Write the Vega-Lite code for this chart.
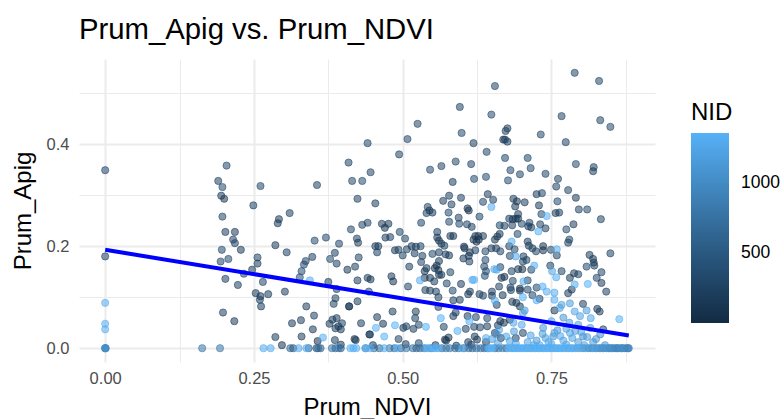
{"$schema":"https://vega.github.io/schema/vega-lite/v6.json","width":576,"height":303,"autosize":{"type":"none"},"padding":{"left":79,"top":59,"right":129,"bottom":57},"background":"white","view":{"stroke":null},
"title":{"text":"Prum_Apig vs. Prum_NDVI","anchor":"start","frame":"group","font":"Liberation Sans","fontSize":29.3,"fontWeight":"normal","color":"#000000","offset":14},
"config":{"font":"Liberation Sans"},
"resolve":{"axis":{"x":"independent","y":"independent"}},
"layer":[
{"data":{"values":[
{"x":0,"y":0.349,"n":300},{"x":0,"y":0.18,"n":250},{"x":0.204,"y":0.358,"n":300},{"x":0.19,"y":0.328,"n":250},{"x":0.197,"y":0.316,"n":350},{"x":0.195,"y":0.299,"n":200},{"x":0.2,"y":0.293,"n":150},{"x":0.249,"y":0.28,"n":250},{"x":0.261,"y":0.318,"n":300},{"x":0.356,"y":0.32,"n":250},{"x":0.197,"y":0.258,"n":300},{"x":0.202,"y":0.228,"n":220},{"x":0.218,"y":0.228,"n":200},{"x":0.215,"y":0.213,"n":280},{"x":0.218,"y":0.206,"n":260},{"x":0.228,"y":0.193,"n":180},{"x":0.196,"y":0.193,"n":320},{"x":0.207,"y":0.175,"n":340},{"x":0.194,"y":0.17,"n":300},{"x":0.256,"y":0.178,"n":280},{"x":0.256,"y":0.166,"n":210},{"x":0.247,"y":0.154,"n":190},{"x":0.233,"y":0.146,"n":300},{"x":0.202,"y":0.136,"n":220},{"x":0.223,"y":0.124,"n":250},{"x":0.265,"y":0.13,"n":280},{"x":0.253,"y":0.108,"n":180},{"x":0.261,"y":0.102,"n":160},{"x":0.26,"y":0.095,"n":230},{"x":0.274,"y":0.106,"n":200},{"x":0.262,"y":0.082,"n":220},{"x":0.198,"y":0.07,"n":210},{"x":0.217,"y":0.053,"n":170},{"x":0.292,"y":0.253,"n":180},{"x":0.29,"y":0.245,"n":150},{"x":0.31,"y":0.265,"n":240},{"x":0.286,"y":0.202,"n":200},{"x":0.305,"y":0.188,"n":240},{"x":0.352,"y":0.211,"n":350},{"x":0.371,"y":0.217,"n":300},{"x":0.393,"y":0.205,"n":310},{"x":0.386,"y":0.187,"n":240},{"x":0.378,"y":0.175,"n":360},{"x":0.389,"y":0.166,"n":260},{"x":0.348,"y":0.179,"n":220},{"x":0.337,"y":0.171,"n":250},{"x":0.334,"y":0.164,"n":330},{"x":0.33,"y":0.151,"n":380},{"x":0.327,"y":0.139,"n":400},{"x":0.302,"y":0.111,"n":200},{"x":0.375,"y":0.13,"n":200},{"x":0.389,"y":0.116,"n":220},{"x":0.387,"y":0.098,"n":240},{"x":0.384,"y":0.087,"n":250},{"x":0.338,"y":0.082,"n":220},{"x":0.351,"y":0.064,"n":240},{"x":0.329,"y":0.055,"n":230},{"x":0.314,"y":0.049,"n":180},{"x":0.349,"y":0.037,"n":190},{"x":0.33,"y":0.023,"n":210},{"x":0.286,"y":0.022,"n":200},{"x":0.297,"y":0.006,"n":120},{"x":0.357,"y":0.014,"n":60},{"x":0.386,"y":0.016,"n":240},{"x":0.396,"y":0.007,"n":180},{"x":0.377,"y":0.048,"n":180},{"x":0.382,"y":0.056,"n":240},{"x":0.389,"y":0.059,"n":190},{"x":0.398,"y":0.049,"n":260},{"x":0.387,"y":0.039,"n":230},{"x":0.396,"y":0.037,"n":150},{"x":0.392,"y":0.043,"n":200},{"x":0.41,"y":0.082,"n":120},{"x":0.41,"y":0.082,"n":180},{"x":0.424,"y":0.092,"n":190},{"x":0.424,"y":0.133,"n":240},{"x":0.407,"y":0.154,"n":160},{"x":0.42,"y":0.16,"n":220},{"x":0.426,"y":0.178,"n":280},{"x":0.423,"y":0.215,"n":260},{"x":0.425,"y":0.207,"n":170},{"x":0.413,"y":0.233,"n":290},{"x":0.432,"y":0.242,"n":300},{"x":0.441,"y":0.246,"n":280},{"x":0.424,"y":0.293,"n":260},{"x":0.415,"y":0.328,"n":340},{"x":0.432,"y":0.328,"n":360},{"x":0.409,"y":0.364,"n":270},{"x":0.441,"y":0.402,"n":300},{"x":0.446,"y":0.345,"n":280},{"x":0.441,"y":0.138,"n":240},{"x":0.446,"y":0.135,"n":130},{"x":0.443,"y":0.111,"n":320},{"x":0.43,"y":0.049,"n":210},{"x":0.444,"y":0.027,"n":200},{"x":0.419,"y":0.018,"n":120},{"x":0.421,"y":0.016,"n":160},
{"x":0.789,"y":0.54,"n":300},{"x":0.83,"y":0.524,"n":320},{"x":0.655,"y":0.514,"n":300},{"x":0.596,"y":0.473,"n":280},{"x":0.649,"y":0.458,"n":340},{"x":0.767,"y":0.455,"n":300},{"x":0.832,"y":0.447,"n":320},{"x":0.849,"y":0.434,"n":330},{"x":0.525,"y":0.44,"n":300},{"x":0.599,"y":0.422,"n":330},{"x":0.676,"y":0.431,"n":240},{"x":0.673,"y":0.426,"n":250},{"x":0.732,"y":0.419,"n":320},{"x":0.508,"y":0.41,"n":300},{"x":0.669,"y":0.409,"n":200},{"x":0.672,"y":0.409,"n":150},{"x":0.676,"y":0.405,"n":250},{"x":0.774,"y":0.404,"n":300},{"x":0.619,"y":0.402,"n":230},{"x":0.494,"y":0.38,"n":270},{"x":0.641,"y":0.385,"n":290},{"x":0.672,"y":0.373,"n":310},{"x":0.71,"y":0.373,"n":320},{"x":0.589,"y":0.366,"n":320},{"x":0.615,"y":0.361,"n":280},{"x":0.565,"y":0.357,"n":290},{"x":0.546,"y":0.35,"n":340},{"x":0.681,"y":0.349,"n":350},{"x":0.715,"y":0.353,"n":330},{"x":0.791,"y":0.361,"n":350},{"x":0.821,"y":0.355,"n":280},{"x":0.82,"y":0.347,"n":220},{"x":0.697,"y":0.341,"n":300},{"x":0.74,"y":0.342,"n":290},{"x":0.64,"y":0.336,"n":330},{"x":0.62,"y":0.332,"n":340},{"x":0.677,"y":0.329,"n":360},{"x":0.761,"y":0.332,"n":250},{"x":0.584,"y":0.326,"n":200},{"x":0.758,"y":0.317,"n":280},{"x":0.778,"y":0.31,"n":270},{"x":0.734,"y":0.304,"n":300},{"x":0.725,"y":0.302,"n":210},{"x":0.643,"y":0.302,"n":200},{"x":0.791,"y":0.295,"n":170},{"x":0.578,"y":0.299,"n":250},{"x":0.568,"y":0.289,"n":230},{"x":0.598,"y":0.295,"n":240},{"x":0.652,"y":0.291,"n":230},{"x":0.686,"y":0.293,"n":200},{"x":0.635,"y":0.287,"n":300},{"x":0.692,"y":0.288,"n":140},{"x":0.705,"y":0.286,"n":200},{"x":0.582,"y":0.282,"n":260},{"x":0.76,"y":0.288,"n":330},{"x":0.689,"y":0.278,"n":180},{"x":0.729,"y":0.28,"n":210},{"x":0.542,"y":0.277,"n":300},{"x":0.545,"y":0.27,"n":120},{"x":0.54,"y":0.265,"n":280},{"x":0.55,"y":0.266,"n":210},{"x":0.609,"y":0.274,"n":140},{"x":0.611,"y":0.27,"n":100},{"x":0.577,"y":0.266,"n":320},{"x":0.796,"y":0.272,"n":280},{"x":0.81,"y":0.272,"n":340},{"x":0.763,"y":0.266,"n":220},{"x":0.757,"y":0.265,"n":170},{"x":0.733,"y":0.263,"n":350},{"x":0.629,"y":0.258,"n":300},{"x":0.594,"y":0.256,"n":280},{"x":0.679,"y":0.254,"n":240},{"x":0.685,"y":0.253,"n":160},{"x":0.69,"y":0.254,"n":180},{"x":0.694,"y":0.263,"n":220},{"x":0.694,"y":0.254,"n":120},{"x":0.578,"y":0.248,"n":340},{"x":0.833,"y":0.253,"n":270},{"x":0.595,"y":0.244,"n":340},{"x":0.608,"y":0.243,"n":270},{"x":0.616,"y":0.238,"n":250},{"x":0.531,"y":0.246,"n":300},{"x":0.465,"y":0.244,"n":170},{"x":0.476,"y":0.244,"n":190},{"x":0.47,"y":0.236,"n":120},{"x":0.454,"y":0.284,"n":200},{"x":0.663,"y":0.241,"n":320},{"x":0.671,"y":0.24,"n":240},{"x":0.684,"y":0.241,"n":260},{"x":0.7,"y":0.244,"n":320},{"x":0.713,"y":0.246,"n":290},{"x":0.711,"y":0.239,"n":190},{"x":0.716,"y":0.237,"n":240},{"x":0.731,"y":0.243,"n":280},{"x":0.74,"y":0.235,"n":260},{"x":0.787,"y":0.243,"n":200},{"x":0.775,"y":0.233,"n":360},{"x":0.495,"y":0.228,"n":300},{"x":0.504,"y":0.215,"n":280},{"x":0.471,"y":0.217,"n":200},{"x":0.479,"y":0.218,"n":240},{"x":0.558,"y":0.228,"n":260},{"x":0.693,"y":0.224,"n":340},{"x":0.663,"y":0.224,"n":200},{"x":0.659,"y":0.219,"n":150},{"x":0.655,"y":0.213,"n":130},{"x":0.558,"y":0.217,"n":180},{"x":0.561,"y":0.211,"n":120},{"x":0.565,"y":0.205,"n":220},{"x":0.57,"y":0.201,"n":250},{"x":0.58,"y":0.22,"n":200},{"x":0.585,"y":0.22,"n":130},{"x":0.622,"y":0.22,"n":150},{"x":0.627,"y":0.22,"n":110},{"x":0.635,"y":0.22,"n":190},{"x":0.619,"y":0.213,"n":90},{"x":0.624,"y":0.209,"n":100},{"x":0.628,"y":0.213,"n":120},{"x":0.78,"y":0.213,"n":300},{"x":0.778,"y":0.207,"n":260},{"x":0.71,"y":0.209,"n":170},{"x":0.712,"y":0.201,"n":200},{"x":0.454,"y":0.2,"n":240},{"x":0.459,"y":0.2,"n":180},{"x":0.457,"y":0.188,"n":240},{"x":0.487,"y":0.192,"n":150},{"x":0.493,"y":0.193,"n":280},{"x":0.5,"y":0.182,"n":290},{"x":0.507,"y":0.194,"n":270},{"x":0.515,"y":0.2,"n":210},{"x":0.52,"y":0.186,"n":230},{"x":0.522,"y":0.199,"n":220},{"x":0.53,"y":0.2,"n":260},{"x":0.533,"y":0.181,"n":250},{"x":0.531,"y":0.169,"n":290},{"x":0.55,"y":0.185,"n":310},{"x":0.561,"y":0.188,"n":240},{"x":0.572,"y":0.184,"n":200},{"x":0.578,"y":0.182,"n":170},{"x":0.603,"y":0.199,"n":120},{"x":0.604,"y":0.196,"n":180},{"x":0.613,"y":0.188,"n":190},{"x":0.611,"y":0.181,"n":130},{"x":0.622,"y":0.192,"n":280},{"x":0.602,"y":0.176,"n":210},{"x":0.612,"y":0.17,"n":250},{"x":0.639,"y":0.19,"n":340},{"x":0.639,"y":0.173,"n":350},{"x":0.649,"y":0.196,"n":200},{"x":0.657,"y":0.196,"n":170},{"x":0.664,"y":0.19,"n":300},{"x":0.679,"y":0.2,"n":280},{"x":0.688,"y":0.194,"n":320},{"x":0.68,"y":0.181,"n":310},{"x":0.718,"y":0.196,"n":250},{"x":0.724,"y":0.19,"n":300},{"x":0.736,"y":0.2,"n":130},{"x":0.736,"y":0.192,"n":110},{"x":0.749,"y":0.193,"n":300},{"x":0.759,"y":0.182,"n":280},{"x":0.703,"y":0.18,"n":280},{"x":0.708,"y":0.173,"n":300},{"x":0.814,"y":0.183,"n":220},{"x":0.849,"y":0.186,"n":260},{"x":0.82,"y":0.175,"n":180},{"x":0.821,"y":0.168,"n":210},{"x":0.809,"y":0.16,"n":320},{"x":0.822,"y":0.162,"n":250},{"x":0.834,"y":0.149,"n":290},{"x":0.511,"y":0.16,"n":240},{"x":0.561,"y":0.171,"n":150},{"x":0.557,"y":0.162,"n":130},{"x":0.554,"y":0.157,"n":100},{"x":0.56,"y":0.153,"n":120},{"x":0.54,"y":0.157,"n":200},{"x":0.537,"y":0.151,"n":160},{"x":0.58,"y":0.149,"n":320},{"x":0.637,"y":0.16,"n":340},{"x":0.64,"y":0.151,"n":360},{"x":0.638,"y":0.142,"n":380},{"x":0.664,"y":0.159,"n":300},{"x":0.683,"y":0.151,"n":300},{"x":0.694,"y":0.155,"n":150},{"x":0.701,"y":0.155,"n":120},{"x":0.702,"y":0.17,"n":300},{"x":0.716,"y":0.154,"n":290},{"x":0.748,"y":0.162,"n":260},{"x":0.767,"y":0.151,"n":280},{"x":0.788,"y":0.147,"n":200},{"x":0.795,"y":0.145,"n":280},{"x":0.781,"y":0.138,"n":160},{"x":0.671,"y":0.14,"n":90},{"x":0.666,"y":0.138,"n":110},{"x":0.481,"y":0.141,"n":180},{"x":0.484,"y":0.131,"n":120},{"x":0.537,"y":0.138,"n":140},{"x":0.546,"y":0.138,"n":130},{"x":0.553,"y":0.131,"n":230},{"x":0.561,"y":0.144,"n":170},{"x":0.565,"y":0.144,"n":190},{"x":0.574,"y":0.127,"n":300},{"x":0.598,"y":0.126,"n":200},{"x":0.685,"y":0.132,"n":320},{"x":0.71,"y":0.133,"n":310},{"x":0.826,"y":0.138,"n":280},{"x":0.834,"y":0.128,"n":200},{"x":0.784,"y":0.115,"n":180},{"x":0.778,"y":0.108,"n":200},{"x":0.509,"y":0.121,"n":270},{"x":0.538,"y":0.114,"n":250},{"x":0.546,"y":0.113,"n":190},{"x":0.556,"y":0.111,"n":240},{"x":0.56,"y":0.1,"n":220},{"x":0.584,"y":0.113,"n":320},{"x":0.613,"y":0.111,"n":170},{"x":0.61,"y":0.106,"n":200},{"x":0.629,"y":0.106,"n":280},{"x":0.635,"y":0.103,"n":300},{"x":0.65,"y":0.111,"n":260},{"x":0.65,"y":0.103,"n":210},{"x":0.662,"y":0.121,"n":240},{"x":0.668,"y":0.104,"n":160},{"x":0.681,"y":0.119,"n":260},{"x":0.682,"y":0.114,"n":300},{"x":0.697,"y":0.117,"n":130},{"x":0.697,"y":0.113,"n":110},{"x":0.71,"y":0.115,"n":300},{"x":0.718,"y":0.104,"n":290},{"x":0.725,"y":0.119,"n":310},{"x":0.842,"y":0.111,"n":230},{"x":0.73,"y":0.097,"n":240},{"x":0.684,"y":0.091,"n":200},{"x":0.691,"y":0.089,"n":160},{"x":0.697,"y":0.082,"n":190},{"x":0.658,"y":0.085,"n":250},{"x":0.596,"y":0.095,"n":200},{"x":0.585,"y":0.094,"n":190},{"x":0.56,"y":0.081,"n":240},{"x":0.522,"y":0.072,"n":170},{"x":0.483,"y":0.072,"n":190},{"x":0.589,"y":0.07,"n":210},{"x":0.585,"y":0.063,"n":200},{"x":0.521,"y":0.059,"n":230},{"x":0.457,"y":0.061,"n":190},{"x":0.445,"y":0.027,"n":220},{"x":0.609,"y":0.063,"n":170},{"x":0.623,"y":0.061,"n":280},{"x":0.642,"y":0.059,"n":310},{"x":0.664,"y":0.053,"n":180},{"x":0.67,"y":0.05,"n":140},{"x":0.755,"y":0.074,"n":190},{"x":0.803,"y":0.087,"n":240},{"x":0.827,"y":0.077,"n":160},{"x":0.831,"y":0.072,"n":220},{"x":0.837,"y":0.037,"n":250},{"x":0.501,"y":0.04,"n":200},{"x":0.506,"y":0.043,"n":280},{"x":0.518,"y":0.038,"n":230},{"x":0.527,"y":0.046,"n":290},{"x":0.569,"y":0.042,"n":280},{"x":0.467,"y":0.048,"n":120},{"x":0.493,"y":0.018,"n":280},{"x":0.527,"y":0.01,"n":300},{"x":0.571,"y":0.017,"n":90},{"x":0.573,"y":0.015,"n":130},{"x":0.577,"y":0.021,"n":100},{"x":0.606,"y":0.038,"n":240},{"x":0.62,"y":0.042,"n":260},{"x":0.63,"y":0.041,"n":280},{"x":0.642,"y":0.043,"n":210},{"x":0.621,"y":0.023,"n":170},{"x":0.625,"y":0.017,"n":190},{"x":0.702,"y":0.03,"n":280},{"x":0.66,"y":0.045,"n":200},{"x":0.68,"y":0.056,"n":170},{"x":0.655,"y":0.03,"n":260},{"x":0.61,"y":0.012,"n":220},{"x":0.64,"y":0.012,"n":150},{"x":0.665,"y":0.02,"n":180},{"x":0.69,"y":0.02,"n":230},{"x":0.45,"y":0.006,"n":250},{"x":0.505,"y":0.008,"n":200},{"x":0.555,"y":0.006,"n":180},{"x":0.59,"y":0.005,"n":220},{"x":0.615,"y":0.007,"n":260},{"x":0.163,"y":0,"n":800},{"x":0.193,"y":0,"n":800},{"x":0.311,"y":0,"n":700},{"x":0.316,"y":0,"n":500},{"x":0.342,"y":0,"n":600},{"x":0.355,"y":0,"n":500},{"x":0.358,"y":0,"n":700},{"x":0.362,"y":0,"n":600},{"x":0.381,"y":0,"n":800},{"x":0.387,"y":0,"n":700},{"x":0.392,"y":0,"n":900},{"x":0.396,"y":0,"n":600},{"x":0.438,"y":0,"n":800},
{"x":0.452,"y":0,"n":700},{"x":0.461,"y":0,"n":650},{"x":0.478,"y":0,"n":800},{"x":0.486,"y":0,"n":700},{"x":0.497,"y":0,"n":650},{"x":0.506,"y":0,"n":800},{"x":0.517,"y":0,"n":750},{"x":0.523,"y":0,"n":650},{"x":0.529,"y":0,"n":700},{"x":0.536,"y":0,"n":800},{"x":0.548,"y":0,"n":750},{"x":0.566,"y":0,"n":700},{"x":0.573,"y":0,"n":850},{"x":0.579,"y":0,"n":800},{"x":0.588,"y":0,"n":700},{"x":0.594,"y":0,"n":800},{"x":0.603,"y":0,"n":750},{"x":0.611,"y":0,"n":650},{"x":0.617,"y":0,"n":700},{"x":0.624,"y":0,"n":750},{"x":0.631,"y":0,"n":800},{"x":0.637,"y":0,"n":700},{"x":0.642,"y":0,"n":850},{"x":0.655,"y":0,"n":700},{"x":0.661,"y":0,"n":800},{"x":0.668,"y":0,"n":900},{"x":0.674,"y":0,"n":850},{"x":0.803,"y":0,"n":900},{"x":0.812,"y":0,"n":850},{"x":0.819,"y":0,"n":950},{"x":0.826,"y":0,"n":850},{"x":0.832,"y":0,"n":900},{"x":0.838,"y":0,"n":850},{"x":0.843,"y":0,"n":950},{"x":0.848,"y":0,"n":800},{"x":0.853,"y":0,"n":900},{"x":0.857,"y":0,"n":850},{"x":0.861,"y":0,"n":800},{"x":0.865,"y":0,"n":950},{"x":0.869,"y":0,"n":850},{"x":0.873,"y":0,"n":900},{"x":0.877,"y":0,"n":800},{"x":0.879,"y":0,"n":850},
{"x":0,"y":0,"n":1000},{"x":0,"y":0,"n":1050},{"x":0,"y":0,"n":1100},{"x":0.001,"y":0,"n":950},{"x":0.662,"y":0.036,"n":1200},{"x":0.674,"y":0.023,"n":1250},{"x":0.658,"y":0.027,"n":1000},{"x":0.686,"y":0.05,"n":1250},{"x":0.7,"y":0.046,"n":1250},{"x":0.702,"y":0.069,"n":1200},{"x":0.705,"y":0.074,"n":1150},{"x":0.687,"y":0.033,"n":1150},{"x":0.736,"y":0.04,"n":1100},{"x":0.75,"y":0.053,"n":1200},{"x":0.753,"y":0.023,"n":1100},{"x":0.767,"y":0.085,"n":1200},{"x":0.781,"y":0.088,"n":1150},{"x":0.764,"y":0.079,"n":1200},{"x":0.781,"y":0.03,"n":1250},{"x":0.803,"y":0.023,"n":1000},{"x":0.789,"y":0.072,"n":1250},{"x":0.798,"y":0.063,"n":1200},{"x":0.809,"y":0.074,"n":1150},{"x":0.816,"y":0.059,"n":1250},{"x":0.795,"y":0.046,"n":1200},{"x":0.832,"y":0.027,"n":1000},{"x":0.815,"y":0.04,"n":1150},{"x":0.77,"y":0.06,"n":1100},{"x":0.78,"y":0.05,"n":1150},{"x":0.76,"y":0.035,"n":1100},{"x":0.74,"y":0.02,"n":1200},{"x":0.725,"y":0.015,"n":1100},{"x":0.71,"y":0.012,"n":1200},{"x":0.69,"y":0.01,"n":1250},{"x":0.77,"y":0.015,"n":1200},{"x":0.795,"y":0.012,"n":1150},{"x":0.82,"y":0.012,"n":1150},{"x":0.75,"y":0.008,"n":1250},{"x":0.73,"y":0.006,"n":1300},{"x":0.84,"y":0.006,"n":1100},{"x":0.715,"y":0.025,"n":1200},{"x":0.735,"y":0.028,"n":1150},{"x":0.745,"y":0.012,"n":1250},{"x":0.755,"y":0.03,"n":1200},{"x":0.765,"y":0.024,"n":1250},{"x":0.775,"y":0.038,"n":1200},{"x":0.785,"y":0.02,"n":1200},{"x":0.79,"y":0.034,"n":1150},{"x":0.8,"y":0.032,"n":1200},{"x":0.81,"y":0.022,"n":1150},{"x":0.825,"y":0.018,"n":1100},{"x":0.68,"y":0.014,"n":1200},{"x":0.66,"y":0.01,"n":1200},{"x":0.65,"y":0.018,"n":1150},{"x":0.72,"y":0.006,"n":1250},{"x":0.775,"y":0.007,"n":1250},{"x":0.805,"y":0.006,"n":1200},
{"x":0.344,"y":0.133,"n":1300},{"x":0.366,"y":0.021,"n":1300},{"x":0.649,"y":0.277,"n":1300},{"x":0.742,"y":0.259,"n":1350},{"x":0.728,"y":0.229,"n":1350},{"x":0.683,"y":0.209,"n":1300},{"x":0.69,"y":0.18,"n":1250},{"x":0.759,"y":0.194,"n":1300},{"x":0.654,"y":0.155,"n":1300},{"x":0.658,"y":0.154,"n":1250},{"x":0.721,"y":0.162,"n":1300},{"x":0.751,"y":0.151,"n":1250},{"x":0.758,"y":0.139,"n":1300},{"x":0.529,"y":0.133,"n":1300},{"x":0.617,"y":0.134,"n":1300},{"x":0.62,"y":0.134,"n":1350},{"x":0.703,"y":0.131,"n":1300},{"x":0.811,"y":0.126,"n":1350},{"x":0.789,"y":0.125,"n":1300},{"x":0.735,"y":0.121,"n":1300},{"x":0.742,"y":0.111,"n":1300},{"x":0.755,"y":0.109,"n":1300},{"x":0.755,"y":0.095,"n":1300},{"x":0.725,"y":0.094,"n":1350},{"x":0.702,"y":0.1,"n":1350},{"x":0.655,"y":0.093,"n":1300},{"x":0.564,"y":0.059,"n":1350},{"x":0.612,"y":0.053,"n":1350},{"x":0.864,"y":0.057,"n":1350},{"x":0.487,"y":0.045,"n":1350},{"x":0.539,"y":0.042,"n":1350},{"x":0.592,"y":0.034,"n":1350},{"x":0.455,"y":0.04,"n":1350},{"x":0.469,"y":0.023,"n":1350},{"x":0.64,"y":0.02,"n":1300},
{"x":0,"y":0.089,"n":1300},{"x":0,"y":0.048,"n":1300},{"x":0,"y":0.037,"n":1300},{"x":0.266,"y":0,"n":1300},{"x":0.278,"y":0,"n":1300},{"x":0.325,"y":0,"n":1300},{"x":0.338,"y":0,"n":1300},{"x":0.412,"y":0,"n":1350},{"x":0.417,"y":0,"n":1350},{"x":0.422,"y":0,"n":1350},{"x":0.437,"y":0,"n":1350},{"x":0.445,"y":0,"n":1300},{"x":0.469,"y":0,"n":1300},{"x":0.491,"y":0,"n":1300},{"x":0.54,"y":0,"n":1300},{"x":0.544,"y":0,"n":1300},{"x":0.552,"y":0,"n":1350},{"x":0.556,"y":0,"n":1350},{"x":0.56,"y":0,"n":1300},{"x":0.6,"y":0,"n":1300},{"x":0.644,"y":0,"n":1300},{"x":0.647,"y":0,"n":1350},{"x":0.651,"y":0,"n":1350},{"x":0.678,"y":0,"n":1350},{"x":0.682,"y":0,"n":1300},{"x":0.685,"y":0,"n":1350},{"x":0.688,"y":0,"n":1300},{"x":0.692,"y":0,"n":1350},{"x":0.695,"y":0,"n":1300},{"x":0.699,"y":0,"n":1350},{"x":0.702,"y":0,"n":1300},{"x":0.706,"y":0,"n":1350},{"x":0.709,"y":0,"n":1300},{"x":0.713,"y":0,"n":1350},{"x":0.716,"y":0,"n":1300},{"x":0.72,"y":0,"n":1350},{"x":0.723,"y":0,"n":1300},{"x":0.727,"y":0,"n":1350},{"x":0.73,"y":0,"n":1300},{"x":0.734,"y":0,"n":1350},{"x":0.737,"y":0,"n":1300},{"x":0.741,"y":0,"n":1350},{"x":0.744,"y":0,"n":1300},{"x":0.748,"y":0,"n":1350},{"x":0.751,"y":0,"n":1300},{"x":0.755,"y":0,"n":1350},{"x":0.758,"y":0,"n":1300},{"x":0.762,"y":0,"n":1350},{"x":0.765,"y":0,"n":1300},{"x":0.769,"y":0,"n":1350},{"x":0.772,"y":0,"n":1300},{"x":0.776,"y":0,"n":1350},{"x":0.779,"y":0,"n":1300},{"x":0.783,"y":0,"n":1350},{"x":0.786,"y":0,"n":1300},{"x":0.79,"y":0,"n":1300},{"x":0.794,"y":0,"n":1250},{"x":0.798,"y":0,"n":1250},{"x":0.807,"y":0,"n":1200},{"x":0.816,"y":0,"n":1150},{"x":0.823,"y":0,"n":1200},{"x":0.83,"y":0,"n":1150},{"x":0.836,"y":0,"n":1100},{"x":0.846,"y":0,"n":1100},{"x":0.851,"y":0,"n":1050},{"x":0.86,"y":0,"n":1000},{"x":0.868,"y":0,"n":1050},{"x":0.88,"y":0,"n":1000}
]},
"mark":{"type":"point","filled":true,"shape":"circle","size":52,"fillOpacity":0.55,"strokeOpacity":0.55,"strokeWidth":1,"clip":false},
"encoding":{
"x":{"field":"x","type":"quantitative","scale":{"domain":[-0.044,0.924],"nice":false,"zero":false},"axis":{"values":[0,0.25,0.5,0.75],"format":".2f","title":"Prum_NDVI","titleFontSize":24,"titleFontWeight":"normal","titleColor":"#000000","titlePadding":9,"labelFontSize":16.5,"labelColor":"#4D4D4D","labelPadding":8,"ticks":false,"domain":false,"grid":true,"gridColor":"#EBEBEB","gridWidth":2}},
"y":{"field":"y","type":"quantitative","scale":{"domain":[-0.027,0.567],"nice":false,"zero":false},"axis":{"values":[0,0.2,0.4],"format":".1f","title":"Prum_Apig","titleFontSize":24,"titleFontWeight":"normal","titleColor":"#000000","titlePadding":11,"labelFontSize":16.5,"labelColor":"#4D4D4D","labelPadding":10,"ticks":false,"domain":false,"grid":true,"gridColor":"#EBEBEB","gridWidth":2}},
"color":{"field":"n","type":"quantitative","scale":{"domain":[1,1357],"range":["#132B43","#56B1F7"],"interpolate":"lab"},"legend":{"orient":"none","legendX":612,"legendY":42,"title":"NID","titleFontSize":24,"titleFontWeight":"normal","titleColor":"#000000","titlePadding":8,"values":[500,1000],"format":"d","gradientLength":190,"gradientThickness":38,"gradientStrokeWidth":0,"labelFontSize":17.5,"labelColor":"#000000","labelOffset":12,"labelOverlap":false}},
"stroke":{"field":"n","type":"quantitative","scale":{"domain":[0,1358],"range":["#132B43","#56B1F7"],"interpolate":"lab"},"legend":null}
}},
{"data":{"values":[{"x":0,"y":0.193},{"x":0.88,"y":0.025}]},
"mark":{"type":"line","color":"#0000FF","strokeWidth":4,"clip":false},
"encoding":{
"x":{"field":"x","type":"quantitative","axis":{"values":[0.125,0.375,0.625,0.875],"labels":false,"ticks":false,"domain":false,"title":null,"grid":true,"gridColor":"#EBEBEB","gridWidth":1,"orient":"bottom"}},
"y":{"field":"y","type":"quantitative","axis":{"values":[0.1,0.3,0.5],"labels":false,"ticks":false,"domain":false,"title":null,"grid":true,"gridColor":"#EBEBEB","gridWidth":1,"orient":"left"}}
}}
]}
